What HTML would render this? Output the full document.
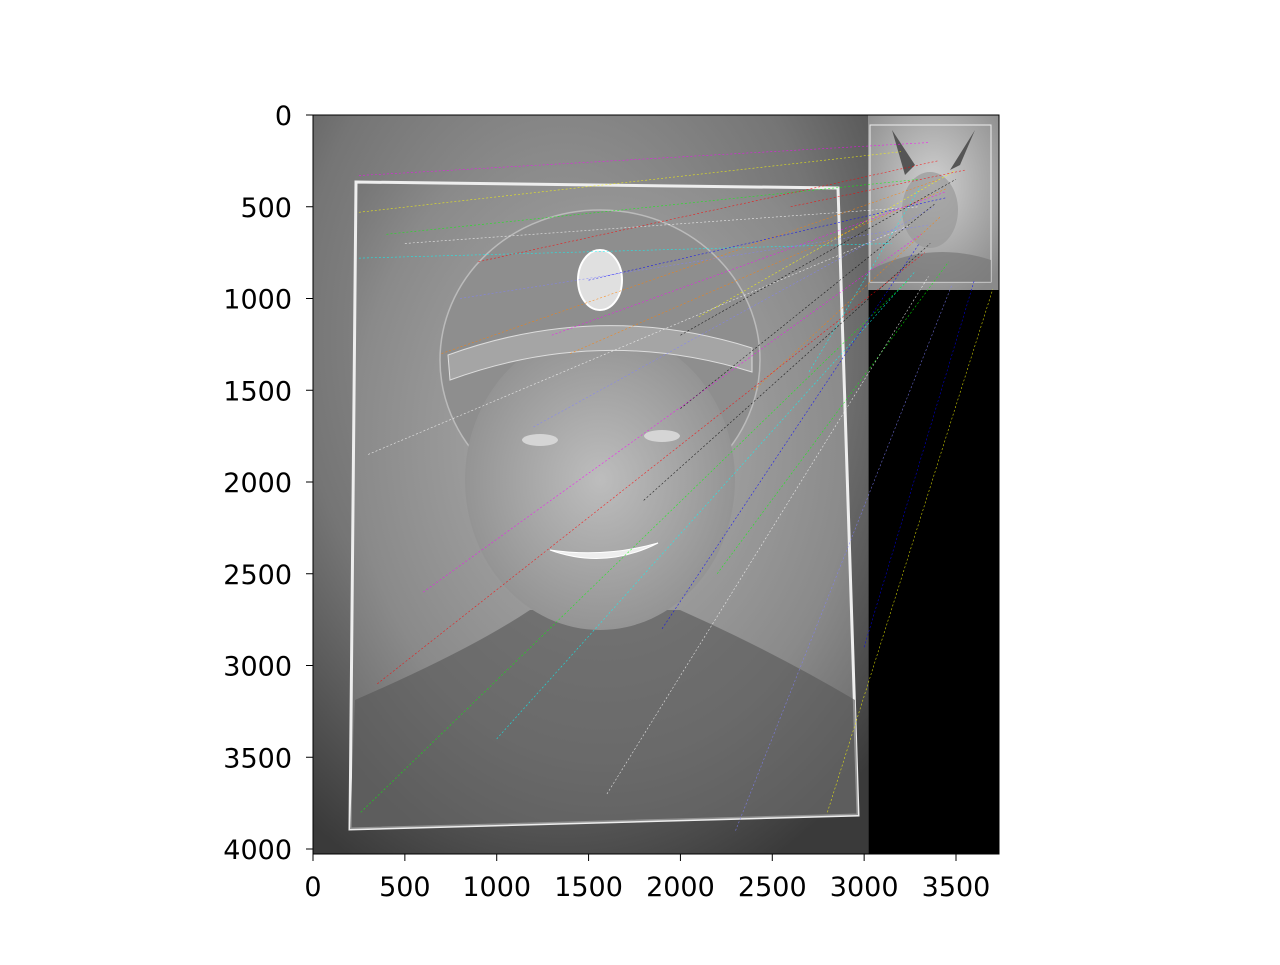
<!DOCTYPE html>
<html><head><meta charset="utf-8"><style>
html,body{margin:0;padding:0;background:#fff;}
svg text{font-family:"DejaVu Sans","Liberation Sans",sans-serif;font-size:27px;fill:#000;}
</style></head><body>
<svg id="chart" width="1280" height="960" viewBox="0 0 1280 960" xmlns="http://www.w3.org/2000/svg">
<defs>
<radialGradient id="bg" cx="0.45" cy="0.3" r="0.8">
<stop offset="0" stop-color="#a0a0a0"/><stop offset="0.6" stop-color="#757575"/><stop offset="1" stop-color="#3a3a3a"/></radialGradient>
<radialGradient id="paper" cx="0.5" cy="0.4" r="0.7">
<stop offset="0" stop-color="#b0b0b0"/><stop offset="0.7" stop-color="#8a8a8a"/><stop offset="1" stop-color="#6a6a6a"/></radialGradient>
<radialGradient id="face" cx="0.5" cy="0.5" r="0.5">
<stop offset="0" stop-color="#bdbdbd"/><stop offset="1" stop-color="#949494"/></radialGradient>
<radialGradient id="cat" cx="0.5" cy="0.4" r="0.7">
<stop offset="0" stop-color="#d0d0d0"/><stop offset="1" stop-color="#8a8a8a"/></radialGradient>
<clipPath id="axclip"><rect x="313" y="115" width="686" height="739"/></clipPath>
</defs>
<g id="plot" clip-path="url(#axclip)"></g>
<rect x="313" y="115" width="686" height="739" fill="none" stroke="#000" stroke-width="1"/>
<g id="ticks"></g>
</svg>
<script>
const xTicks=[0,500,1000,1500,2000,2500,3000,3500];
const yTicks=[0,500,1000,1500,2000,2500,3000,3500,4000];
// match lines: [xLeft,yLeft,xRight,yRight] in image pixel coordinates
const matchesXL=[250,400,900,1500,2100,2700,300,1200,2400,1800,600,2200,350,3000,2800,1000,1600,2300,700,2000,1300,260,2600,1900,250,250,500,800,1400,2000];
const matchesYL=[330,650,800,900,1100,1400,1850,1700,1500,2100,2600,2500,3100,2900,3800,3400,3700,3900,1300,1600,1200,3800,500,2800,530,780,700,1000,1300,1200];
const matchesXR=[3350,3300,3400,3450,3500,3300,3250,3380,3420,3360,3310,3460,3330,3600,3700,3280,3350,3480,3410,3390,3440,3240,3550,3300,3200,3150,3300,3350,3450,3500];
const matchesYR=[150,350,250,450,300,400,600,500,550,700,650,800,750,900,950,850,880,920,350,480,420,900,300,700,200,700,500,600,400,350];
const colors=['#ff00ff','#00ff00','#ff0000','#0000ff','#ffff00','#00ffff','#ffffff','#8080ff','#ff8000','#000000'];
const X0=313,SX=(956-313)/3500,Y0=115,SY=(849-115)/4000;
const xs=v=>X0+v*SX, ys=v=>Y0+v*SY;
const NS='http://www.w3.org/2000/svg';
const plot=document.getElementById('plot');
function mk(t,a,p){const e=document.createElementNS(NS,t);for(const k in a)e.setAttribute(k,a[k]);(p||plot).appendChild(e);return e;}
let e;
e=mk('rect',{x:xs(0),y:ys(0),width:xs(3024)-xs(0),height:ys(4032)-ys(0),fill:'url(#bg)'});


e=mk('polygon',{points:'356,182 838,188 858,815 350,829',fill:'url(#paper)',stroke:'#eee','stroke-width':3});


mk('path',{d:'M355,700 Q470,650 530,610 L680,610 Q770,650 855,700 L858,815 L350,829 Z',fill:'#555',opacity:0.6});
mk('ellipse',{cx:600,cy:360,rx:160,ry:150,fill:'#8e8e8e',stroke:'#bbb','stroke-width':1.5});
mk('ellipse',{cx:600,cy:480,rx:135,ry:150,fill:'url(#face)'});
mk('path',{d:'M448,355 Q600,300 752,348 L752,372 Q600,325 450,380 Z',fill:'#a5a5a5',stroke:'#ddd'});
mk('ellipse',{cx:600,cy:280,rx:22,ry:30,fill:'#e0e0e0',stroke:'#fff','stroke-width':2});
mk('ellipse',{cx:540,cy:440,rx:18,ry:6,fill:'#d5d5d5'});
mk('ellipse',{cx:662,cy:436,rx:18,ry:6,fill:'#d5d5d5'});
mk('path',{d:'M550,550 Q605,570 658,543 Q605,558 550,550',fill:'#eee',stroke:'#fff'});
e=mk('rect',{x:xs(3024),y:ys(0),width:xs(3734)-xs(3024),height:ys(4032)-ys(0),fill:'#000'});


e=mk('rect',{x:868,y:115,width:131,height:175,fill:'url(#cat)'});


mk('rect',{x:870,y:125,width:121,height:157,fill:'none',stroke:'#eee','stroke-width':1});
mk('polygon',{points:'892,130 905,175 915,165',fill:'#555'});
mk('polygon',{points:'975,130 960,165 950,170',fill:'#555'});
mk('ellipse',{cx:930,cy:210,rx:28,ry:38,fill:'#999',opacity:0.7});
mk('path',{d:'M870,270 Q930,240 991,260 L991,282 L870,282 Z',fill:'#777',opacity:0.7});
for(let i=0;i<matchesXL.length;i++){
  e=mk('line',{x1:xs(matchesXL[i]),y1:ys(matchesYL[i]),x2:xs(matchesXR[i]),y2:ys(matchesYR[i]),stroke:colors[i%colors.length],'stroke-width':0.6,'stroke-dasharray':'2,2',opacity:0.8});
  
  
}
const tg=document.getElementById('ticks');
xTicks.forEach(v=>{
  e=mk('line',{x1:xs(v),y1:854,x2:xs(v),y2:861,stroke:'#000'},tg);
  
  
  e=mk('text',{x:xs(v),y:896,'text-anchor':'middle'},tg);
  e.textContent=v;
  
  
});
yTicks.forEach(v=>{
  e=mk('line',{x1:306,y1:ys(v),x2:313,y2:ys(v),stroke:'#000'},tg);
  
  
  e=mk('text',{x:292,y:ys(v)+10,'text-anchor':'end'},tg);
  e.textContent=v;
  
  
});
</script>
</body></html>
